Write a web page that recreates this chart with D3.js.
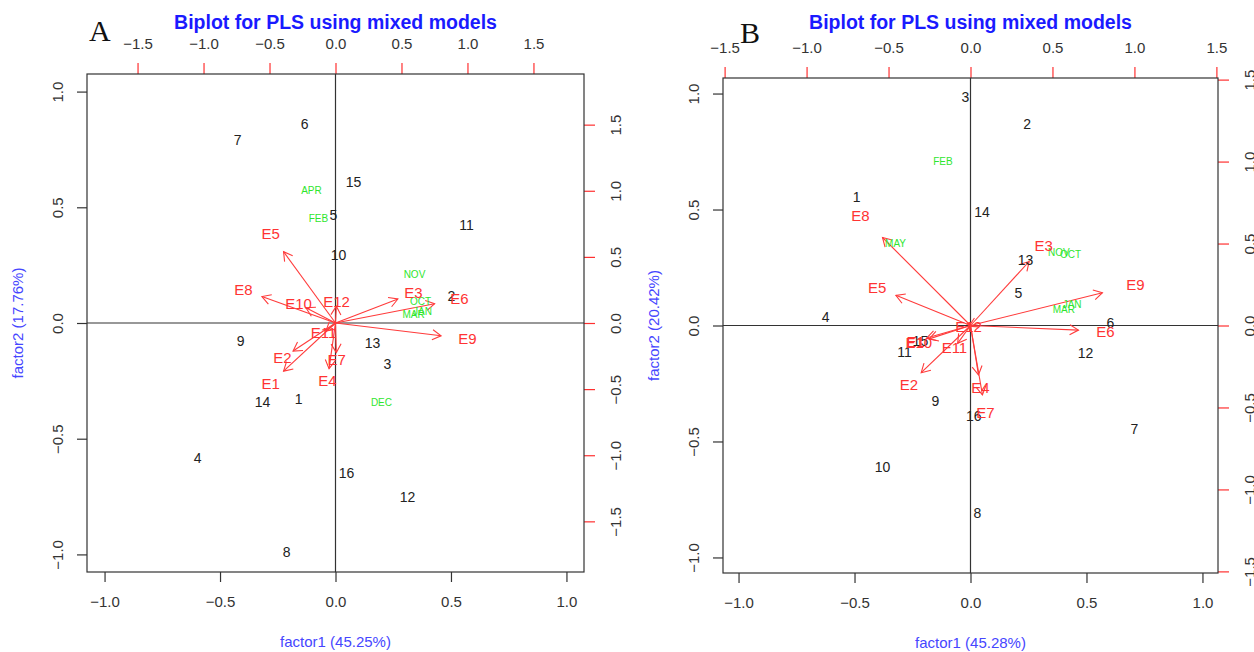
<!DOCTYPE html>
<html>
<head>
<meta charset="utf-8">
<script src="https://cdn.jsdelivr.net/npm/d3@7"></script>
<style>
  body { margin: 0; background: #fff; }
  svg { display: block; font-family: Arial, "Liberation Sans", Helvetica, sans-serif; }
</style>
</head>
<body>
<svg width="1254" height="652"></svg>
<script>
// ---- panel A data ----
var sitesA  = ["1","2","3","4","5","6","7","8","9","10","11","12","13","14","15","16"];
var sitesAx = [-0.160, 0.502, 0.225, -0.597, -0.009, -0.134, -0.424, -0.212, -0.411, 0.013, 0.567, 0.312, 0.160, -0.316, 0.078, 0.048];
var sitesAy = [-0.329, 0.117, -0.177, -0.584, 0.468, 0.861, 0.792, -0.991, -0.078, 0.294, 0.424, -0.753, -0.087, -0.342, 0.610, -0.649];
var monthsA  = ["APR","FEB","NOV","OCT","JAN","MAR","DEC"];
var monthsAx = [-0.104, -0.074, 0.342, 0.368, 0.377, 0.338, 0.199];
var monthsAy = [0.571, 0.450, 0.212, 0.095, 0.048, 0.039, -0.342];
var envA  = ["E1","E2","E3","E4","E5","E6","E7","E8","E9","E10","E11","E12"];
var envAx = [-0.492, -0.402, 0.591, -0.061, -0.492, 0.939, 0.008, -0.697, 1.000, -0.280, -0.091, 0.008];
var envAy = [-0.455, -0.265, 0.227, -0.432, 0.674, 0.182, -0.280, 0.250, -0.121, 0.144, -0.076, 0.159];

// ---- panel B data ----
var sitesB  = ["1","2","3","4","5","6","7","8","9","10","11","12","13","14","15","16"];
var sitesBx = [-0.491, 0.244, -0.022, -0.625, 0.206, 0.603, 0.707, 0.030, -0.151, -0.379, -0.284, 0.496, 0.237, 0.050, -0.216, 0.014];
var sitesBy = [0.552, 0.868, 0.987, 0.036, 0.141, 0.012, -0.448, -0.810, -0.326, -0.608, -0.115, -0.118, 0.284, 0.488, -0.068, -0.388];
var monthsB  = ["FEB","MAY","NOV","OCT","JAN","MAR"];
var monthsBx = [-0.119, -0.323, 0.381, 0.431, 0.438, 0.402];
var monthsBy = [0.708, 0.356, 0.313, 0.306, 0.093, 0.069];
var envB  = ["E1","E2","E3","E4","E5","E6","E7","E8","E9","E10","E11","E12"];
var envBx = [-0.335, -0.376, 0.447, 0.061, -0.569, 0.823, 0.091, -0.671, 1.006, -0.315, -0.098, -0.012];
var envBy = [-0.096, -0.360, 0.488, -0.376, 0.230, -0.035, -0.529, 0.671, 0.250, -0.102, -0.136, -0.006];

// ---- ticks / labels ----
var primaryTicks = [-1, -0.5, 0, 0.5, 1];
var secondaryTicks = [-1.5, -1, -0.5, 0, 0.5, 1, 1.5];
var title = "Biplot for PLS using mixed models";

var svg = d3.select("svg");
var fmt = d3.format(".1f");

function zip(labels, xs, ys) {
  return labels.map(function (l, i) { return {label: l, x: xs[i], y: ys[i]}; });
}

function drawPanel(p) {
  var g = svg.append("g");
  var x = d3.scaleLinear().domain([-p.lim, p.lim]).range([p.x0, p.x1]);
  var y = d3.scaleLinear().domain([-p.lim, p.lim]).range([p.y1, p.y0]);
  var x2 = d3.scaleLinear().domain([-p.lim * p.ratio, p.lim * p.ratio]).range([p.x0, p.x1]);
  var y2 = d3.scaleLinear().domain([-p.lim * p.ratio, p.lim * p.ratio]).range([p.y1, p.y0]);

  // zero lines
  g.append("line").attr("x1", x(0)).attr("x2", x(0)).attr("y1", p.y0).attr("y2", p.y1)
    .attr("stroke", "#333").attr("stroke-width", 1.2);
  g.append("line").attr("x1", p.x0).attr("x2", p.x1).attr("y1", y(0)).attr("y2", y(0))
    .attr("stroke", "#333").attr("stroke-width", 1.2);

  // bottom axis
  var ax = g.append("g").attr("transform", "translate(0," + p.y1 + ")")
    .call(d3.axisBottom(x).tickValues(primaryTicks).tickSize(10).tickPadding(14).tickFormat(fmt));
  // left axis
  var ay = g.append("g").attr("transform", "translate(" + p.x0 + ",0)")
    .call(d3.axisLeft(y).tickValues(primaryTicks).tickSize(10).tickFormat(fmt));
  ay.selectAll(".tick text").attr("x", null).attr("dy", null)
    .attr("text-anchor", "middle").attr("transform", "translate(-24,0) rotate(-90)");
  // top axis (secondary)
  var at = g.append("g").attr("transform", "translate(0," + p.y0 + ")")
    .call(d3.axisTop(x2).tickValues(secondaryTicks).tickSize(11).tickPadding(14).tickFormat(fmt));
  // right axis (secondary)
  var ar = g.append("g").attr("transform", "translate(" + p.x1 + ",0)")
    .call(d3.axisRight(y2).tickValues(secondaryTicks).tickSize(11).tickFormat(fmt));
  ar.selectAll(".tick text").attr("x", null).attr("dy", null)
    .attr("text-anchor", "middle").attr("transform", "translate(37,0) rotate(-90)");

  [ax, ay, at, ar].forEach(function (a) {
    a.select(".domain").remove();
    a.selectAll(".tick text").attr("font-size", 15).attr("fill", "#333")
      .attr("font-family", "Arial, 'Liberation Sans', sans-serif");
  });
  ax.selectAll(".tick line").attr("stroke", "#333").attr("stroke-width", 1.2);
  ay.selectAll(".tick line").attr("stroke", "#333").attr("stroke-width", 1.2);
  at.selectAll(".tick line").attr("stroke", "#ff3030").attr("stroke-width", 1.2);
  ar.selectAll(".tick line").attr("stroke", "#ff3030").attr("stroke-width", 1.2);

  // box
  g.append("rect").attr("x", p.x0).attr("y", p.y0)
    .attr("width", p.x1 - p.x0).attr("height", p.y1 - p.y0)
    .attr("fill", "none").attr("stroke", "#333").attr("stroke-width", 1.2);

  // arrows (drawn to 0.8 of the loading, label at the loading)
  var env = zip(p.env, p.envx, p.envy);
  var ag = g.append("g").attr("fill", "none");
  env.forEach(function (d) {
    var ox = x2(0), oy = y2(0);
    var tx = x2(d.x * 0.8), ty = y2(d.y * 0.8);
    ag.append("line").attr("x1", ox).attr("y1", oy).attr("x2", tx).attr("y2", ty)
      .attr("stroke", "#ff3b3b").attr("stroke-width", 1.1);
    var ang = Math.atan2(ty - oy, tx - ox), len = 10, spread = Math.PI / 6;
    var pts = [
      [tx - len * Math.cos(ang - spread), ty - len * Math.sin(ang - spread)],
      [tx, ty],
      [tx - len * Math.cos(ang + spread), ty - len * Math.sin(ang + spread)]
    ];
    ag.append("path").attr("d", d3.line()(pts))
      .attr("stroke", "#ff3b3b").attr("stroke-width", 1.1);
  });

  // site labels
  g.selectAll(".site").data(zip(p.sites, p.sitesx, p.sitesy)).enter().append("text")
    .attr("x", function (d) { return x(d.x); })
    .attr("y", function (d) { return y(d.y); })
    .attr("dy", "0.36em").attr("text-anchor", "middle")
    .attr("font-size", 14).attr("fill", "#222")
    .text(function (d) { return d.label; });

  // month labels
  g.selectAll(".month").data(zip(p.months, p.monthsx, p.monthsy)).enter().append("text")
    .attr("x", function (d) { return x(d.x); })
    .attr("y", function (d) { return y(d.y); })
    .attr("dy", "0.36em").attr("text-anchor", "middle")
    .attr("font-size", 10).attr("fill", "#2ee62e")
    .text(function (d) { return d.label; });

  // env labels
  g.selectAll(".env").data(env).enter().append("text")
    .attr("x", function (d) { return x2(d.x); })
    .attr("y", function (d) { return y2(d.y); })
    .attr("dy", "0.36em").attr("text-anchor", "middle")
    .attr("font-size", 15).attr("fill", "#ff3333")
    .text(function (d) { return d.label; });

  // titles
  var cx = x(0), cy = y(0);
  g.append("text").attr("x", cx).attr("y", 29).attr("text-anchor", "middle")
    .attr("font-size", 19.5).attr("font-weight", "bold").attr("fill", "#1a1aff").text(title);
  g.append("text").attr("x", cx).attr("y", p.y1 + 75).attr("text-anchor", "middle")
    .attr("font-size", 15).attr("fill", "#4646ff").text(p.xlab);
  g.append("text").attr("transform", "translate(" + (p.x0 - 64) + "," + cy + ") rotate(-90)")
    .attr("text-anchor", "middle").attr("font-size", 15).attr("fill", "#4646ff").text(p.ylab);
  g.append("text").attr("x", p.tagx).attr("y", p.tagy)
    .attr("font-family", "'Liberation Serif', 'DejaVu Serif', serif")
    .attr("font-size", 30).attr("fill", "#111").text(p.tag);
}

drawPanel({
  x0: 87, x1: 584, y0: 74, y1: 572, lim: 1.076, ratio: 1.75,
  sites: sitesA, sitesx: sitesAx, sitesy: sitesAy,
  months: monthsA, monthsx: monthsAx, monthsy: monthsAy,
  env: envA, envx: envAx, envy: envAy,
  xlab: "factor1 (45.25%)", ylab: "factor2 (17.76%)",
  tag: "A", tagx: 89, tagy: 41
});

drawPanel({
  x0: 723, x1: 1218, y0: 78, y1: 573, lim: 1.067, ratio: 1.415,
  sites: sitesB, sitesx: sitesBx, sitesy: sitesBy,
  months: monthsB, monthsx: monthsBx, monthsy: monthsBy,
  env: envB, envx: envBx, envy: envBy,
  xlab: "factor1 (45.28%)", ylab: "factor2 (20.42%)",
  tag: "B", tagx: 740, tagy: 43
});
</script>
</body>
</html>
